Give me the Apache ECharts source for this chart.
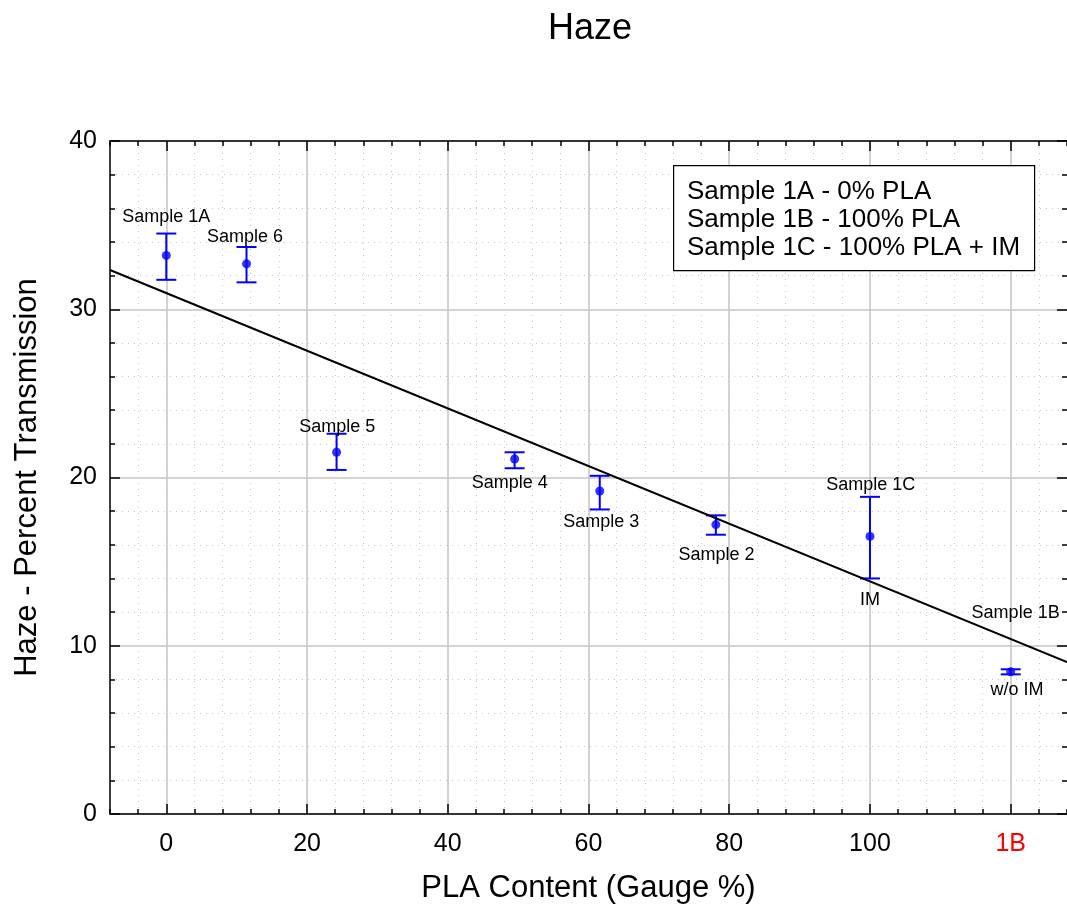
<!DOCTYPE html>
<html>
<head>
<meta charset="utf-8">
<script src="https://cdn.jsdelivr.net/npm/echarts@6/dist/echarts.min.js"></script>
<style>
html,body{margin:0;padding:0;background:#fff;}
#chart{width:1067px;height:918px;}
</style>
</head>
<body>
<div id="chart"></div>
<script>
// ---- data ----
const sampleNames = ['Sample 1A', 'Sample 6', 'Sample 5', 'Sample 4', 'Sample 3', 'Sample 2', 'Sample 1C', 'Sample 1B'];
const plaContent  = [0, 11.4, 24.2, 49.5, 61.6, 78.1, 100, 120];
const hazeMean    = [33.2, 32.7, 21.5, 21.1, 19.2, 17.2, 16.5, 8.45];
const hazeLow     = [31.75, 31.6, 20.45, 20.55, 18.1, 16.6, 14.0, 8.3];
const hazeHigh    = [34.5, 33.7, 22.6, 21.5, 20.1, 17.75, 18.85, 8.6];

// linear fit line (end points)
const fitX = [-8, 128];
const fitY = [32.33, 9.03];

// annotation texts and their anchor points (data units)
const annotText = ['Sample 1A', 'Sample 6', 'Sample 5', 'Sample 4', 'Sample 3', 'Sample 2', 'Sample 1C', 'IM', 'Sample 1B', 'w/o IM'];
const annotX    = [0, 11.2, 24.3, 48.8, 61.8, 78.2, 100.1, 100, 120.7, 120.9];
const annotY    = [35.5, 34.3, 23.0, 19.65, 17.35, 15.4, 19.55, 12.7, 11.95, 7.35];

// tick labels
const xTickValues = [0, 20, 40, 60, 80, 100, 120];
const xTickLabels = ['0', '20', '40', '60', '80', '100', '1B'];
const legendLines = ['Sample 1A - 0% PLA', 'Sample 1B - 100% PLA', 'Sample 1C - 100% PLA + IM'];

// ---- build chart ----
const FONT = "'Liberation Sans', Arial, Helvetica, sans-serif";
const chart = echarts.init(document.getElementById('chart'), null, {renderer: 'canvas'});

const errData = plaContent.map((x, i) => [x, hazeLow[i], hazeHigh[i]]);
const ptData = plaContent.map((x, i) => [x, hazeMean[i], sampleNames[i]]);
const fitData = fitX.map((x, i) => [x, fitY[i]]);
const annData = annotText.map((t, i) => [annotX[i], annotY[i], t]);

const xBase = {
  type: 'value', min: -8, max: 128, interval: 4, gridIndex: 0
};

const option = {
  backgroundColor: '#ffffff',
  animation: false,
  title: {
    text: 'Haze',
    left: 585, top: 6, textAlign: 'center',
    textStyle: {fontFamily: FONT, fontSize: 36, fontWeight: 'normal', color: '#000'}
  },
  grid: {left: 110, top: 141, right: 0, bottom: 104, containLabel: false},
  xAxis: [
    Object.assign({}, xBase, {
      position: 'bottom',
      name: 'PLA Content (Gauge %)', nameLocation: 'middle', nameGap: 59,
      nameTextStyle: {fontFamily: FONT, fontSize: 31, color: '#000'},
      axisLine: {show: true, onZero: false, lineStyle: {color: '#000', width: 1.5}},
      axisTick: {show: true, inside: true, length: 10, customValues: xTickValues, lineStyle: {color: '#000', width: 1.5}},
      axisLabel: {
        show: true, margin: 18, customValues: xTickValues,
        fontFamily: FONT, fontSize: 25, color: '#000',
        formatter: function (v) {
          const k = xTickValues.indexOf(Number(v));
          if (k < 0) return '';
          return Number(v) === 120 ? '{red|' + xTickLabels[k] + '}' : xTickLabels[k];
        },
        rich: {red: {color: '#ff0000', fontFamily: FONT, fontSize: 25}}
      },
      splitLine: {show: true, lineStyle: {color: '#c4c4c4', width: 1.5}}
    }),
    Object.assign({}, xBase, {
      position: 'bottom',
      axisLine: {show: false, onZero: false},
      axisTick: {show: true, inside: true, length: 5, lineStyle: {color: '#000', width: 1.5}},
      axisLabel: {show: false},
      splitLine: {show: true, lineStyle: {color: '#c8c8c8', width: 1, type: [1, 5]}}
    }),
    Object.assign({}, xBase, {
      position: 'top',
      axisLine: {show: true, onZero: false, lineStyle: {color: '#000', width: 1.5}},
      axisTick: {show: true, inside: true, length: 10, customValues: xTickValues, lineStyle: {color: '#000', width: 1.5}},
      axisLabel: {show: false},
      splitLine: {show: false}
    }),
    Object.assign({}, xBase, {
      position: 'top',
      axisLine: {show: false, onZero: false},
      axisTick: {show: true, inside: true, length: 5, lineStyle: {color: '#000', width: 1.5}},
      axisLabel: {show: false},
      splitLine: {show: false}
    })
  ],
  yAxis: [
    {
      type: 'value', min: 0, max: 40, interval: 10, position: 'left',
      name: 'Haze - Percent Transmission', nameLocation: 'middle', nameGap: 67,
      nameTextStyle: {fontFamily: FONT, fontSize: 31, color: '#000'},
      axisLine: {show: true, onZero: false, lineStyle: {color: '#000', width: 1.5}},
      axisTick: {show: true, inside: true, length: 10, lineStyle: {color: '#000', width: 1.5}},
      minorTick: {show: true, splitNumber: 5, length: 5, lineStyle: {color: '#000', width: 1.5}},
      axisLabel: {show: true, margin: 13, fontFamily: FONT, fontSize: 25, color: '#000'},
      splitLine: {show: true, lineStyle: {color: '#c4c4c4', width: 1.5}},
      minorSplitLine: {show: true, lineStyle: {color: '#c8c8c8', width: 1, type: [1, 5]}}
    },
    {
      type: 'value', min: 0, max: 40, interval: 10, position: 'right',
      axisLine: {show: false, onZero: false},
      axisTick: {show: true, inside: true, length: 10, lineStyle: {color: '#000', width: 1.5}},
      minorTick: {show: true, splitNumber: 5, length: 5, lineStyle: {color: '#000', width: 1.5}},
      axisLabel: {show: false},
      splitLine: {show: false}
    }
  ],
  graphic: {
    elements: [
      {
        type: 'rect', left: 673, top: 165, z: 100, zlevel: 1,
        shape: {width: 361, height: 105},
        style: {fill: '#ffffff', stroke: '#000000', lineWidth: 1.2}
      },
      {
        type: 'text', left: 687, top: 178, z: 101, zlevel: 1,
        style: {text: legendLines.join('\n'), font: '26px ' + FONT, fill: '#000', lineHeight: 28}
      }
    ]
  },
  series: [
    {
      type: 'custom', name: 'errors', xAxisIndex: 0, yAxisIndex: 0, z: 3,
      data: errData,
      encode: {x: 0, y: [1, 2]},
      renderItem: function (params, api) {
        const x = api.value(0), lo = api.value(1), hi = api.value(2);
        const a = api.coord([x, lo]), b = api.coord([x, hi]);
        const w = 10;
        const st = {stroke: '#0000ff', lineWidth: 2};
        return {type: 'group', children: [
          {type: 'line', shape: {x1: a[0], y1: a[1], x2: b[0], y2: b[1]}, style: st},
          {type: 'line', shape: {x1: a[0] - w, y1: a[1], x2: a[0] + w, y2: a[1]}, style: st},
          {type: 'line', shape: {x1: b[0] - w, y1: b[1], x2: b[0] + w, y2: b[1]}, style: st}
        ]};
      }
    },
    {
      type: 'scatter', name: 'points', xAxisIndex: 0, yAxisIndex: 0, z: 4,
      data: ptData, symbol: 'circle', symbolSize: 9,
      itemStyle: {color: '#0000ff'}
    },
    {
      type: 'line', name: 'fit', xAxisIndex: 0, yAxisIndex: 0, z: 5,
      data: fitData, showSymbol: false, symbol: 'none',
      lineStyle: {color: '#000', width: 2}
    },
    {
      type: 'custom', name: 'labels', xAxisIndex: 0, yAxisIndex: 0, z: 6,
      data: annData, encode: {x: 0, y: 1},
      renderItem: function (params, api) {
        const p = api.coord([api.value(0), api.value(1)]);
        return {type: 'text', x: p[0], y: p[1],
          style: {text: annotText[params.dataIndex], font: '18px ' + FONT, fill: '#000',
                  align: 'center', verticalAlign: 'middle'}};
      }
    }
  ]
};
chart.setOption(option);
</script>
</body>
</html>
